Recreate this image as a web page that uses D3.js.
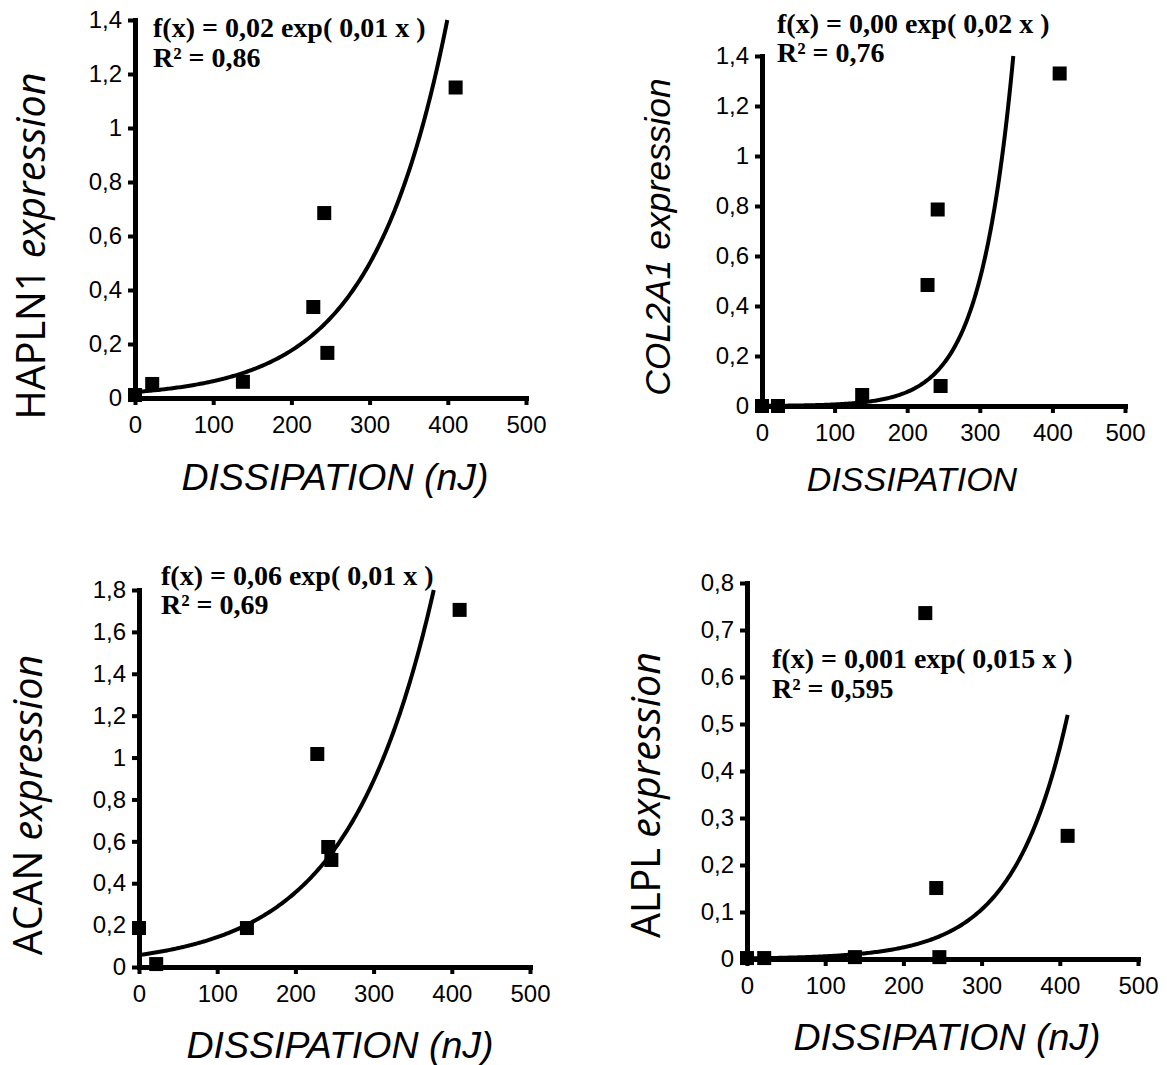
<!DOCTYPE html>
<html>
<head>
<meta charset="utf-8">
<script src="https://cdn.jsdelivr.net/npm/d3@7"></script>
<style>
  html, body { margin: 0; padding: 0; background: #fff; }
  svg { display: block; }
</style>
</head>
<body>
<svg id="chart" width="1167" height="1065"></svg>
<script>
// ---------- data ----------
const dissipation = [0, 22, 138, 228, 242, 246, 410];
const hapln1 = [0.011, 0.052, 0.06, 0.337, 0.685, 0.167, 1.15];
const col2a1 = [0.0, 0.0, 0.044, 0.484, 0.786, 0.08, 1.33];
const acan   = [0.186, 0.014, 0.186, 1.017, 0.573, 0.511, 1.705];
const alpl   = [0.002, 0.002, 0.004, 0.736, 0.151, 0.004, 0.262];

// exponential trend-line parameters (y = a * exp(b * x))
const fitA = [0.022, 0.00069, 0.057, 0.00136];
const fitB = [0.0104, 0.022, 0.00916, 0.0145];

const xTicks = [0, 100, 200, 300, 400, 500];
const yTicks1 = [0, 0.2, 0.4, 0.6, 0.8, 1, 1.2, 1.4];
const yTicks2 = [0, 0.2, 0.4, 0.6, 0.8, 1, 1.2, 1.4];
const yTicks3 = [0, 0.2, 0.4, 0.6, 0.8, 1, 1.2, 1.4, 1.6, 1.8];
const yTicks4 = [0, 0.1, 0.2, 0.3, 0.4, 0.5, 0.6, 0.7, 0.8];

const equations = [
  ["f(x) = 0,02 exp( 0,01 x )", "R² = 0,86"],
  ["f(x) = 0,00 exp( 0,02 x )", "R² = 0,76"],
  ["f(x) = 0,06 exp( 0,01 x )", "R² = 0,69"],
  ["f(x) = 0,001 exp( 0,015 x )", "R² = 0,595"]
];
const geneNames = ["HAPLN1", "COL2A1", "ACAN", "ALPL"];
const xTitles = ["DISSIPATION (nJ)", "DISSIPATION", "DISSIPATION (nJ)", "DISSIPATION (nJ)"];

// ---------- layout ----------
const panels = [
  { ys: hapln1, yTicks: yTicks1, yMax: 1.4, xr: [135, 526], yr: [398, 20],
    eq: [153, 37, 67], xt: [335, 490, 37.5], yt: [45, 246, "open"] },
  { ys: col2a1, yTicks: yTicks2, yMax: 1.4, xr: [762, 1125], yr: [406, 56],
    eq: [777, 33, 62], xt: [912, 491, 34], yt: [670, 237, "italic"] },
  { ys: acan, yTicks: yTicks3, yMax: 1.8, xr: [139, 530], yr: [967, 590],
    eq: [161, 585, 614], xt: [340, 1058, 37.5], yt: [42, 805, "open"] },
  { ys: alpl, yTicks: yTicks4, yMax: 0.8, xr: [747, 1138], yr: [959, 583],
    eq: [772, 668, 698], xt: [947, 1050, 37.5], yt: [660, 795, "open"] }
];

const locale = d3.formatLocale({ decimal: ",", thousands: ".", grouping: [3], currency: ["", ""] });
const fmt = locale.format("~g");

const svg = d3.select("#chart");

panels.forEach((p, i) => {
  const x = d3.scaleLinear().domain([0, 500]).range(p.xr);
  const y = d3.scaleLinear().domain([0, p.yMax]).range(p.yr);
  const g = svg.append("g");

  // y axis
  const yAxis = g.append("g")
    .attr("transform", `translate(${p.xr[0]},0)`)
    .call(d3.axisLeft(y).tickValues(p.yTicks).tickFormat(fmt).tickSizeInner(7).tickSizeOuter(0).tickPadding(6));
  // x axis
  const xAxis = g.append("g")
    .attr("transform", `translate(0,${p.yr[0]})`)
    .call(d3.axisBottom(x).tickValues(xTicks).tickFormat(d3.format("d")).tickSizeInner(7).tickSizeOuter(0).tickPadding(11));

  [yAxis, xAxis].forEach(ax => {
    ax.select(".domain").attr("stroke", "#000").attr("stroke-width", 5).attr("stroke-linecap", "square");
    ax.selectAll(".tick line").attr("stroke", "#000").attr("stroke-width", 4);
    ax.selectAll(".tick text")
      .attr("fill", "#000")
      .style("font-family", "'Liberation Sans', Arial, sans-serif")
      .style("font-size", "24px");
  });

  // trend curve
  const a = fitA[i], b = fitB[i];
  const xEnd = Math.min(d3.max(dissipation), Math.log(p.yMax / a) / b);
  const curvePts = d3.range(0, 201).map(k => {
    const xv = xEnd * k / 200;
    return [xv, a * Math.exp(b * xv)];
  });
  g.append("path")
    .datum(curvePts)
    .attr("fill", "none")
    .attr("stroke", "#000")
    .attr("stroke-width", 4)
    .attr("d", d3.line().x(d => x(d[0])).y(d => y(d[1])));

  // points
  const size = 14;
  g.selectAll("rect.pt")
    .data(dissipation.map((d, k) => [d, p.ys[k]]))
    .join("rect")
    .attr("class", "pt")
    .attr("x", d => x(d[0]) - size / 2)
    .attr("y", d => y(d[1]) - size / 2)
    .attr("width", size)
    .attr("height", size)
    .attr("fill", "#000");

  // equation
  const eqG = g.append("g")
    .style("font-family", "'Liberation Serif', 'Times New Roman', serif")
    .style("font-weight", "bold")
    .style("font-size", "28px");
  eqG.append("text").attr("x", p.eq[0]).attr("y", p.eq[1]).text(equations[i][0]);
  eqG.append("text").attr("x", p.eq[0]).attr("y", p.eq[2]).text(equations[i][1]);

  // x title
  g.append("text")
    .attr("x", p.xt[0]).attr("y", p.xt[1])
    .attr("text-anchor", "middle")
    .style("font-family", "'Liberation Sans', Arial, sans-serif")
    .style("font-style", "italic")
    .style("font-size", p.xt[2] + "px")
    .text(xTitles[i]);

  // y title
  const yt = g.append("text")
    .attr("transform", `translate(${p.yt[0]},${p.yt[1]}) rotate(-90)`)
    .attr("text-anchor", "middle");
  if (p.yt[2] === "italic") {
    yt.style("font-family", "'Liberation Sans', Arial, sans-serif")
      .style("font-style", "italic")
      .style("font-size", "35.5px")
      .text(geneNames[i] + " expression");
  } else {
    yt.style("font-family", "'Open Sans', sans-serif").style("font-size", "39.5px");
    yt.append("tspan").text(geneNames[i] + " ");
    yt.append("tspan").style("font-style", "italic").text("expression");
  }
});
</script>
</body>
</html>
